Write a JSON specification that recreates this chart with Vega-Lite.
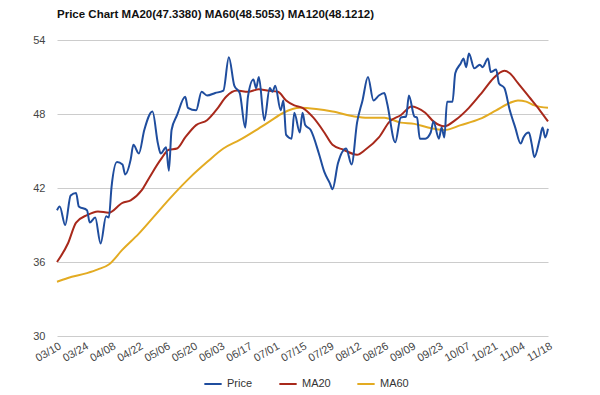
{
  "$schema": "https://vega.github.io/schema/vega-lite/v6.json",
  "width": 491,
  "height": 296,
  "autosize": "none",
  "padding": {"left": 57, "top": 40, "right": 52, "bottom": 59},
  "background": "white",
  "title": {
    "text": "Price Chart MA20(47.3380) MA60(48.5053) MA120(48.1212)",
    "anchor": "start",
    "frame": "group",
    "font": "Liberation Sans",
    "fontSize": 11.5,
    "fontWeight": "bold",
    "color": "#111111",
    "offset": 14
  },
  "config": {
    "view": {"stroke": null},
    "font": "Liberation Sans"
  },
  "datasets": {
    "price": [
      {"s":"Price","d":0,"v":40.2},{"s":"Price","d":1,"v":40.5},{"s":"Price","d":3,"v":39.0},{"s":"Price","d":5,"v":41.4},{"s":"Price","d":7,"v":41.6},{"s":"Price","d":8,"v":40.5},{"s":"Price","d":11,"v":40.2},{"s":"Price","d":12,"v":39.2},{"s":"Price","d":14,"v":39.6},{"s":"Price","d":16,"v":37.5},{"s":"Price","d":18,"v":39.7},{"s":"Price","d":19,"v":39.6},{"s":"Price","d":20,"v":42.1},{"s":"Price","d":22,"v":44.1},{"s":"Price","d":24,"v":43.9},{"s":"Price","d":25,"v":43.1},{"s":"Price","d":27,"v":44.3},{"s":"Price","d":28,"v":45.5},{"s":"Price","d":30,"v":44.8},{"s":"Price","d":32,"v":46.7},{"s":"Price","d":35,"v":48.2},{"s":"Price","d":37,"v":45.6},{"s":"Price","d":38,"v":44.8},{"s":"Price","d":40,"v":45.3},{"s":"Price","d":41,"v":43.4},{"s":"Price","d":42,"v":46.7},{"s":"Price","d":44,"v":47.9},{"s":"Price","d":47,"v":49.4},{"s":"Price","d":48,"v":48.5},{"s":"Price","d":51,"v":48.3},{"s":"Price","d":53,"v":49.8},{"s":"Price","d":55,"v":49.5},{"s":"Price","d":58,"v":49.7},{"s":"Price","d":61,"v":49.9},{"s":"Price","d":63,"v":52.6},{"s":"Price","d":65,"v":50.3},{"s":"Price","d":67,"v":49.7},{"s":"Price","d":69,"v":46.9},{"s":"Price","d":70,"v":49.4},{"s":"Price","d":72,"v":50.8},{"s":"Price","d":73,"v":50.1},{"s":"Price","d":74,"v":51.0},{"s":"Price","d":76,"v":47.5},{"s":"Price","d":78,"v":50.1},{"s":"Price","d":79,"v":49.8},{"s":"Price","d":80,"v":50.3},{"s":"Price","d":82,"v":48.3},{"s":"Price","d":83,"v":49.1},{"s":"Price","d":84,"v":46.3},{"s":"Price","d":86,"v":46.0},{"s":"Price","d":87,"v":48.1},{"s":"Price","d":89,"v":46.5},{"s":"Price","d":90,"v":48.1},{"s":"Price","d":91,"v":47.1},{"s":"Price","d":93,"v":46.7},{"s":"Price","d":96,"v":44.8},{"s":"Price","d":98,"v":43.3},{"s":"Price","d":100,"v":42.4},{"s":"Price","d":101,"v":41.9},{"s":"Price","d":103,"v":44.0},{"s":"Price","d":106,"v":45.2},{"s":"Price","d":108,"v":43.9},{"s":"Price","d":110,"v":47.3},{"s":"Price","d":112,"v":49.1},{"s":"Price","d":114,"v":51.0},{"s":"Price","d":116,"v":49.1},{"s":"Price","d":118,"v":49.5},{"s":"Price","d":120,"v":49.7},{"s":"Price","d":121,"v":48.9},{"s":"Price","d":124,"v":45.7},{"s":"Price","d":126,"v":47.7},{"s":"Price","d":128,"v":47.8},{"s":"Price","d":129,"v":49.5},{"s":"Price","d":131,"v":47.8},{"s":"Price","d":132,"v":47.7},{"s":"Price","d":133,"v":46.0},{"s":"Price","d":135,"v":46.0},{"s":"Price","d":137,"v":46.5},{"s":"Price","d":138,"v":47.4},{"s":"Price","d":140,"v":46.0},{"s":"Price","d":141,"v":46.9},{"s":"Price","d":142,"v":46.1},{"s":"Price","d":143,"v":49.0},{"s":"Price","d":145,"v":49.0},{"s":"Price","d":146,"v":51.3},{"s":"Price","d":148,"v":52.1},{"s":"Price","d":149,"v":52.5},{"s":"Price","d":150,"v":51.8},{"s":"Price","d":151,"v":52.9},{"s":"Price","d":153,"v":51.7},{"s":"Price","d":155,"v":52.0},{"s":"Price","d":156,"v":51.8},{"s":"Price","d":158,"v":52.5},{"s":"Price","d":159,"v":51.4},{"s":"Price","d":161,"v":51.6},{"s":"Price","d":162,"v":50.5},{"s":"Price","d":164,"v":50.1},{"s":"Price","d":166,"v":48.3},{"s":"Price","d":168,"v":46.9},{"s":"Price","d":170,"v":45.6},{"s":"Price","d":171,"v":46.1},{"s":"Price","d":173,"v":46.5},{"s":"Price","d":174,"v":45.6},{"s":"Price","d":175,"v":44.5},{"s":"Price","d":177,"v":46.0},{"s":"Price","d":178,"v":46.9},{"s":"Price","d":179,"v":46.1},{"s":"Price","d":180,"v":46.8}
    ],
    "ma20": [
      {"s":"MA20","d":0,"v":36.0},{"s":"MA20","d":4,"v":37.5},{"s":"MA20","d":7,"v":39.2},{"s":"MA20","d":11,"v":39.8},{"s":"MA20","d":15,"v":40.1},{"s":"MA20","d":19,"v":40.0},{"s":"MA20","d":24,"v":40.8},{"s":"MA20","d":27,"v":41.0},{"s":"MA20","d":31,"v":41.8},{"s":"MA20","d":34,"v":42.9},{"s":"MA20","d":38,"v":44.3},{"s":"MA20","d":41,"v":45.1},{"s":"MA20","d":44,"v":45.2},{"s":"MA20","d":47,"v":46.1},{"s":"MA20","d":51,"v":47.1},{"s":"MA20","d":55,"v":47.5},{"s":"MA20","d":59,"v":48.5},{"s":"MA20","d":62,"v":49.4},{"s":"MA20","d":66,"v":49.9},{"s":"MA20","d":70,"v":49.8},{"s":"MA20","d":74,"v":50.0},{"s":"MA20","d":77,"v":49.9},{"s":"MA20","d":81,"v":49.8},{"s":"MA20","d":84,"v":49.1},{"s":"MA20","d":87,"v":48.7},{"s":"MA20","d":90,"v":48.5},{"s":"MA20","d":94,"v":47.7},{"s":"MA20","d":98,"v":46.5},{"s":"MA20","d":101,"v":45.5},{"s":"MA20","d":105,"v":45.1},{"s":"MA20","d":110,"v":44.7},{"s":"MA20","d":113,"v":45.1},{"s":"MA20","d":118,"v":46.1},{"s":"MA20","d":122,"v":47.4},{"s":"MA20","d":126,"v":47.9},{"s":"MA20","d":130,"v":48.6},{"s":"MA20","d":132,"v":48.5},{"s":"MA20","d":135,"v":48.1},{"s":"MA20","d":138,"v":47.4},{"s":"MA20","d":142,"v":47.0},{"s":"MA20","d":146,"v":47.5},{"s":"MA20","d":151,"v":48.5},{"s":"MA20","d":156,"v":49.8},{"s":"MA20","d":160,"v":50.9},{"s":"MA20","d":164,"v":51.5},{"s":"MA20","d":166,"v":51.3},{"s":"MA20","d":169,"v":50.5},{"s":"MA20","d":173,"v":49.4},{"s":"MA20","d":177,"v":48.3},{"s":"MA20","d":180,"v":47.4}
    ],
    "ma60": [
      {"s":"MA60","d":0,"v":34.4},{"s":"MA60","d":4,"v":34.7},{"s":"MA60","d":11,"v":35.1},{"s":"MA60","d":15,"v":35.4},{"s":"MA60","d":19,"v":35.8},{"s":"MA60","d":24,"v":37.0},{"s":"MA60","d":30,"v":38.3},{"s":"MA60","d":36,"v":39.8},{"s":"MA60","d":42,"v":41.3},{"s":"MA60","d":49,"v":42.9},{"s":"MA60","d":55,"v":44.1},{"s":"MA60","d":61,"v":45.2},{"s":"MA60","d":67,"v":45.9},{"s":"MA60","d":73,"v":46.7},{"s":"MA60","d":78,"v":47.4},{"s":"MA60","d":83,"v":48.1},{"s":"MA60","d":89,"v":48.5},{"s":"MA60","d":95,"v":48.4},{"s":"MA60","d":101,"v":48.2},{"s":"MA60","d":109,"v":47.8},{"s":"MA60","d":114,"v":47.7},{"s":"MA60","d":120,"v":47.7},{"s":"MA60","d":126,"v":47.3},{"s":"MA60","d":131,"v":47.2},{"s":"MA60","d":136,"v":46.9},{"s":"MA60","d":142,"v":46.7},{"s":"MA60","d":148,"v":47.1},{"s":"MA60","d":155,"v":47.6},{"s":"MA60","d":161,"v":48.3},{"s":"MA60","d":166,"v":48.9},{"s":"MA60","d":169,"v":49.1},{"s":"MA60","d":172,"v":49.0},{"s":"MA60","d":175,"v":48.7},{"s":"MA60","d":180,"v":48.5}
    ]
  },
  "encoding": {
    "x": {
      "field": "d",
      "type": "quantitative",
      "scale": {"domain": [0, 180], "nice": false, "zero": false},
      "axis": {
        "title": null,
        "values": [0,10,20,30,40,50,60,70,80,90,100,110,120,130,140,150,160,170,180],
        "labelExpr": "['03/10','03/24','04/08','04/22','05/06','05/20','06/03','06/17','07/01','07/15','07/29','08/12','08/26','09/09','09/23','10/07','10/21','11/04','11/18'][round(datum.value/10)]",
        "grid": false,
        "ticks": false,
        "domain": false,
        "labelAngle": -30,
        "labelAlign": "right",
        "labelBaseline": "top",
        "labelPadding": 4,
        "labelFontSize": 11,
        "labelColor": "#444444",
        "labelOverlap": false
      }
    },
    "y": {
      "field": "v",
      "type": "quantitative",
      "scale": {"domain": [30, 54], "nice": false, "zero": false},
      "axis": {
        "title": null,
        "values": [30, 36, 42, 48, 54],
        "grid": true,
        "gridColor": "#cccccc",
        "gridWidth": 1,
        "ticks": false,
        "domain": false,
        "labelPadding": 12,
        "labelFontSize": 11,
        "labelColor": "#444444"
      }
    },
    "color": {
      "field": "s",
      "type": "nominal",
      "scale": {"domain": ["Price", "MA20", "MA60"], "range": ["#1f4d9e", "#a8291b", "#e3ab22"]},
      "legend": {
        "title": null,
        "orient": "none",
        "direction": "horizontal",
        "legendX": 146,
        "legendY": 334,
        "symbolType": "stroke",
        "symbolSize": 300,
        "symbolStrokeWidth": 2,
        "labelFontSize": 11,
        "labelColor": "#333333",
        "columnPadding": 22
      }
    }
  },
  "layer": [
    {
      "data": {"name": "ma60"},
      "mark": {"type": "line", "interpolate": "monotone", "strokeWidth": 2}
    },
    {
      "data": {"name": "ma20"},
      "mark": {"type": "line", "interpolate": "monotone", "strokeWidth": 2}
    },
    {
      "data": {"name": "price"},
      "mark": {"type": "line", "interpolate": "monotone", "strokeWidth": 2}
    }
  ]
}
